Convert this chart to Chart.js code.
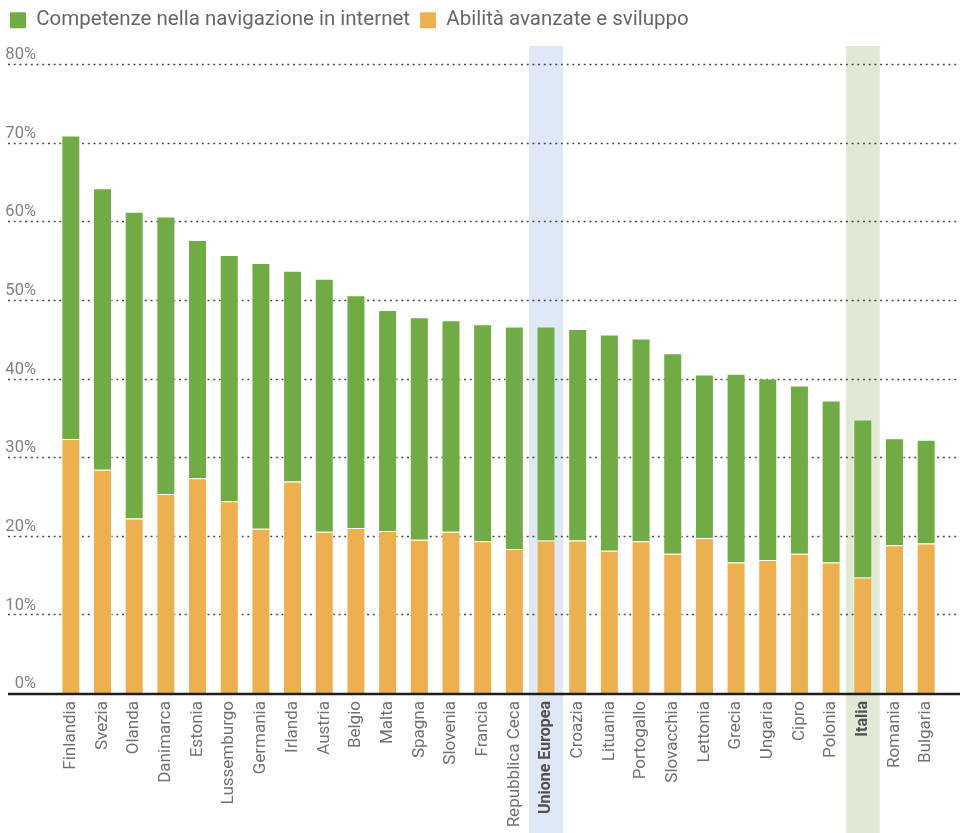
<!DOCTYPE html>
<html>
<head>
<meta charset="utf-8">
<script src="https://cdn.jsdelivr.net/npm/chart.js@4"></script>
<style>
  html, body { margin: 0; padding: 0; background: #fff; }
  #wrap { width: 960px; height: 833px; }
</style>
</head>
<body>
<div id="wrap"><canvas id="grafico"></canvas></div>
<script>
const paesi = ['Finlandia', 'Svezia', 'Olanda', 'Danimarca', 'Estonia', 'Lussemburgo', 'Germania',
  'Irlanda', 'Austria', 'Belgio', 'Malta', 'Spagna', 'Slovenia', 'Francia', 'Repubblica Ceca',
  'Unione Europea', 'Croazia', 'Lituania', 'Portogallo', 'Slovacchia', 'Lettonia', 'Grecia',
  'Ungaria', 'Cipro', 'Polonia', 'Italia', 'Romania', 'Bulgaria'];

// quota base (arancione) e quota aggiuntiva (verde), in %
const abilita = [32.3, 28.4, 22.2, 25.3, 27.3, 24.4, 20.9, 26.9, 20.5, 21.0, 20.6, 19.5, 20.5, 19.3,
  18.3, 19.4, 19.4, 18.1, 19.3, 17.7, 19.7, 16.6, 16.9, 17.7, 16.6, 14.7, 18.8, 19.0];
const navigazione = [38.6, 35.8, 39.0, 35.3, 30.3, 31.3, 33.8, 26.8, 32.2, 29.6, 28.1, 28.3, 26.9, 27.6,
  28.3, 27.2, 26.9, 27.5, 25.8, 25.5, 20.8, 24.0, 23.1, 21.4, 20.6, 20.1, 13.6, 13.2];

const yTicks = [0, 10, 20, 30, 40, 50, 60, 70, 80];

const evidenziati = { 'Unione Europea': '#dfe8f6', 'Italia': '#e0e9d3' };

Chart.defaults.font.family = 'Roboto';

const sfondo = {
  id: 'sfondo',
  beforeLayout(chart) {
    const lg = chart.legend;
    if (lg && !lg._patched) {
      const fit = lg.fit;
      lg.fit = function () { fit.call(this); this.height = 64; };
      lg._patched = true;
    }
  },
  beforeDraw(chart) {
    const { ctx, scales: { x, y } } = chart;
    ctx.save();
    paesi.forEach((p, i) => {
      if (!evidenziati[p]) return;
      const cx = x.getPixelForValue(i);
      ctx.fillStyle = evidenziati[p];
      ctx.fillRect(cx - 17, 46, 34, chart.height - 46);
    });
    ctx.strokeStyle = '#484848';
    ctx.lineWidth = 1.3;
    ctx.setLineDash([2, 3.7]);
    y.ticks.forEach(t => {
      if (t.value === 0) return;
      const py = Math.round(y.getPixelForValue(t.value)) + 0.5;
      ctx.beginPath();
      ctx.moveTo(8, py);
      ctx.lineTo(chart.width, py);
      ctx.stroke();
    });
    ctx.restore();
  },
  afterDatasetsDraw(chart) {
    const { ctx, scales: { y } } = chart;
    const py = y.getPixelForValue(0) + 1;
    ctx.save();
    ctx.strokeStyle = '#1e1e1e';
    ctx.lineWidth = 2.5;
    ctx.beginPath();
    ctx.moveTo(8, py);
    ctx.lineTo(chart.width, py);
    ctx.stroke();
    ctx.restore();
  }
};

new Chart(document.getElementById('grafico'), {
  type: 'bar',
  data: {
    labels: paesi,
    datasets: [{
      label: 'Abilità avanzate e sviluppo',
      data: abilita,
      backgroundColor: '#edb050',
      borderColor: 'rgba(255,255,255,0.6)',
      borderWidth: 1
    }, {
      label: 'Competenze nella navigazione in internet',
      data: navigazione,
      backgroundColor: '#70ab46',
      borderColor: 'rgba(255,255,255,0.55)',
      borderWidth: 1
    }]
  },
  options: {
    responsive: true,
    maintainAspectRatio: false,
    animation: false,
    layout: { padding: { left: 0, right: 18, top: 0, bottom: 0 } },
    datasets: { bar: { barPercentage: 0.6, categoryPercentage: 1 } },
    plugins: {
      tooltip: { enabled: false },
      legend: {
        align: 'start',
        reverse: true,
        labels: {
          boxWidth: 16,
          boxHeight: 16,
          padding: 10,
          color: '#666',
          font: { size: 20.5, lineHeight: 1 },
          generateLabels: chart => Chart.defaults.plugins.legend.labels.generateLabels(chart)
            .map(l => Object.assign(l, { lineWidth: 0 }))
        }
      }
    },
    scales: {
      x: {
        stacked: true,
        grid: { display: false, drawTicks: false },
        border: { display: false },
        afterFit: s => { s.height = 140; },
        ticks: {
          autoSkip: false,
          minRotation: 90,
          maxRotation: 90,
          padding: 8,
          color: c => evidenziati[paesi[c.index]] ? '#505050' : '#707070',
          font: c => evidenziati[paesi[c.index]]
            ? { size: 16, weight: 'bold' }
            : { size: 17 }
        }
      },
      y: {
        stacked: true,
        min: 0,
        max: 80,
        grid: { display: false, drawTicks: false },
        border: { display: false },
        afterFit: s => { s.width = 55; },
        afterBuildTicks: s => { s.ticks = yTicks.map(v => ({ value: v })); },
        ticks: {
          padding: 19,
          labelOffset: -9,
          color: '#808080',
          font: { size: 16.5 },
          callback: v => v + '%'
        }
      }
    }
  },
  plugins: [sfondo]
});
</script>
</body>
</html>
